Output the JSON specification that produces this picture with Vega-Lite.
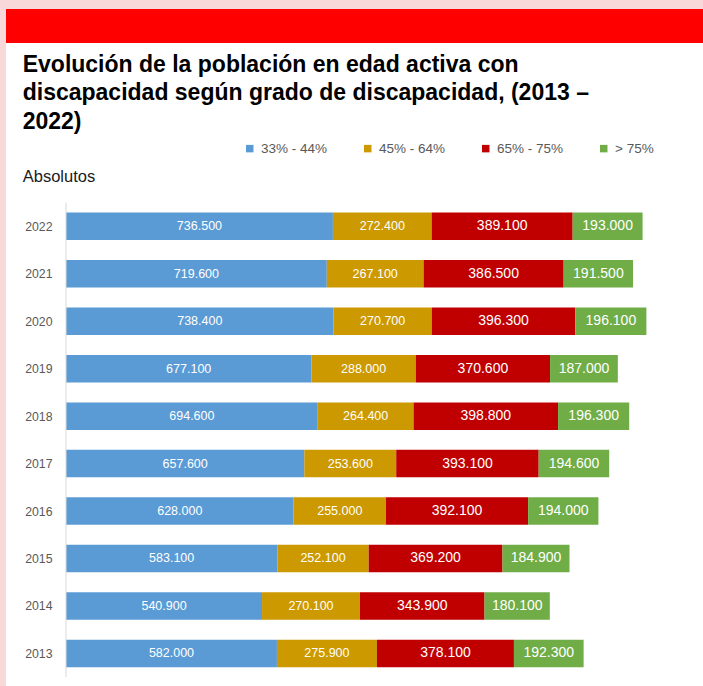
{
  "$schema": "https://vega.github.io/schema/vega-lite/v6.json",
  "background": "#f8d8d9",
  "padding": {"left": 6, "top": 9, "right": 0, "bottom": 0},
  "spacing": 0,
  "bounds": "flush",
  "config": {
    "locale": {"number": {"decimal": ",", "thousands": ".", "grouping": [3], "currency": ["", " €"]}},
    "font": "Liberation Sans"
  },
  "vconcat": [
    {
      "width": 697,
      "height": 34,
      "view": {"fill": "#ff0000", "stroke": null},
      "data": {"values": [{}]},
      "mark": {"type": "point", "opacity": 0},
      "encoding": {}
    },
    {
      "width": 697,
      "height": 643,
      "view": {"fill": "#ffffff", "stroke": null},
      "title": {
        "text": ["Evolución de la población en edad activa con", "discapacidad según grado de discapacidad, (2013 –", "2022)"],
        "subtitle": "Absolutos",
        "anchor": "start",
        "frame": "group",
        "offset": -142,
        "dx": 16.7,
        "font": "Liberation Sans",
        "fontSize": 23,
        "fontWeight": "bold",
        "color": "#000000",
        "lineHeight": 28.5,
        "subtitleFont": "Liberation Sans",
        "subtitleFontSize": 16.5,
        "subtitleFontWeight": "normal",
        "subtitleColor": "#1a1a1a",
        "subtitlePadding": 35
      },
      "data": {
        "values": [
          {"anio": 2022, "grado": "33% - 44%", "valor": 736500},
          {"anio": 2022, "grado": "45% - 64%", "valor": 272400},
          {"anio": 2022, "grado": "65% - 75%", "valor": 389100},
          {"anio": 2022, "grado": "> 75%", "valor": 193000},
          {"anio": 2021, "grado": "33% - 44%", "valor": 719600},
          {"anio": 2021, "grado": "45% - 64%", "valor": 267100},
          {"anio": 2021, "grado": "65% - 75%", "valor": 386500},
          {"anio": 2021, "grado": "> 75%", "valor": 191500},
          {"anio": 2020, "grado": "33% - 44%", "valor": 738400},
          {"anio": 2020, "grado": "45% - 64%", "valor": 270700},
          {"anio": 2020, "grado": "65% - 75%", "valor": 396300},
          {"anio": 2020, "grado": "> 75%", "valor": 196100},
          {"anio": 2019, "grado": "33% - 44%", "valor": 677100},
          {"anio": 2019, "grado": "45% - 64%", "valor": 288000},
          {"anio": 2019, "grado": "65% - 75%", "valor": 370600},
          {"anio": 2019, "grado": "> 75%", "valor": 187000},
          {"anio": 2018, "grado": "33% - 44%", "valor": 694600},
          {"anio": 2018, "grado": "45% - 64%", "valor": 264400},
          {"anio": 2018, "grado": "65% - 75%", "valor": 398800},
          {"anio": 2018, "grado": "> 75%", "valor": 196300},
          {"anio": 2017, "grado": "33% - 44%", "valor": 657600},
          {"anio": 2017, "grado": "45% - 64%", "valor": 253600},
          {"anio": 2017, "grado": "65% - 75%", "valor": 393100},
          {"anio": 2017, "grado": "> 75%", "valor": 194600},
          {"anio": 2016, "grado": "33% - 44%", "valor": 628000},
          {"anio": 2016, "grado": "45% - 64%", "valor": 255000},
          {"anio": 2016, "grado": "65% - 75%", "valor": 392100},
          {"anio": 2016, "grado": "> 75%", "valor": 194000},
          {"anio": 2015, "grado": "33% - 44%", "valor": 583100},
          {"anio": 2015, "grado": "45% - 64%", "valor": 252100},
          {"anio": 2015, "grado": "65% - 75%", "valor": 369200},
          {"anio": 2015, "grado": "> 75%", "valor": 184900},
          {"anio": 2014, "grado": "33% - 44%", "valor": 540900},
          {"anio": 2014, "grado": "45% - 64%", "valor": 270100},
          {"anio": 2014, "grado": "65% - 75%", "valor": 343900},
          {"anio": 2014, "grado": "> 75%", "valor": 180100},
          {"anio": 2013, "grado": "33% - 44%", "valor": 582000},
          {"anio": 2013, "grado": "45% - 64%", "valor": 275900},
          {"anio": 2013, "grado": "65% - 75%", "valor": 378100},
          {"anio": 2013, "grado": "> 75%", "valor": 192300}
        ]
      },
      "transform": [
        {"stack": "valor", "groupby": ["anio"], "sort": [{"field": "grado", "order": "ascending"}], "as": ["x0", "x1"]},
        {"calculate": "(datum.x0 + datum.x1) / 2", "as": "xm"}
      ],
      "layer": [
        {
          "mark": {"type": "bar", "orient": "horizontal", "height": 27.5},
          "encoding": {
            "x": {"field": "x0", "type": "quantitative", "scale": {"domain": [-165600, 1757700], "nice": false, "zero": false, "padding": 0}, "axis": null},
            "x2": {"field": "x1"},
            "y": {
              "field": "anio", "type": "quantitative", "title": null,
              "scale": {"domain": [2012.313, 2025.863], "nice": false, "zero": false, "padding": 0},
              "axis": {
                "title": null, "values": [2013, 2014, 2015, 2016, 2017, 2018, 2019, 2020, 2021, 2022],
                "format": "d", "ticks": false, "domain": false, "grid": false,
                "offset": -46, "labelPadding": 0, "labelFont": "Liberation Sans", "labelFontSize": 12.3,
                "labelColor": "#595959", "labelBaseline": "middle"
              }
            },
            "color": {
              "field": "grado", "type": "nominal",
              "scale": {"domain": ["33% - 44%", "45% - 64%", "65% - 75%", "> 75%"], "range": ["#5b9bd5", "#cc9900", "#c00000", "#70ad47"]},
              "legend": {
                "title": null, "orient": "none", "direction": "horizontal",
                "legendX": 237, "legendY": 132.5,
                "symbolType": "square", "symbolSize": 56, "symbolStrokeWidth": 0,
                "labelFont": "Liberation Sans", "labelFontSize": 13.5, "labelColor": "#595959",
                "labelOffset": 4.5, "columnPadding": 33, "padding": 0
              }
            }
          }
        },
        {
          "data": {"values": [{}]},
          "mark": {"type": "rule", "color": "#d9d9d9", "strokeWidth": 1},
          "encoding": {
            "x": {"datum": 0, "type": "quantitative", "axis": null},
            "y": {
              "datum": 2012.5, "type": "quantitative", "title": null,
              "axis": {
                "title": null, "values": [2013, 2014, 2015, 2016, 2017, 2018, 2019, 2020, 2021, 2022],
                "format": "d", "ticks": false, "domain": false, "grid": false,
                "offset": -46, "labelPadding": 0, "labelFont": "Liberation Sans", "labelFontSize": 12.3,
                "labelColor": "#595959", "labelBaseline": "middle"
              }
            },
            "y2": {"datum": 2022.5}
          }
        },
        {
          "mark": {"type": "text", "align": "center", "baseline": "middle", "font": "Liberation Sans", "color": "#ffffff"},
          "encoding": {
            "x": {"field": "xm", "type": "quantitative", "axis": null},
            "y": {
              "field": "anio", "type": "quantitative", "title": null,
              "axis": {
                "title": null, "values": [2013, 2014, 2015, 2016, 2017, 2018, 2019, 2020, 2021, 2022],
                "format": "d", "ticks": false, "domain": false, "grid": false,
                "offset": -46, "labelPadding": 0, "labelFont": "Liberation Sans", "labelFontSize": 12.3,
                "labelColor": "#595959", "labelBaseline": "middle"
              }
            },
            "text": {"field": "valor", "type": "quantitative", "format": ",.0f"},
            "size": {
              "condition": {"test": "datum.grado === '33% - 44%' || datum.grado === '45% - 64%'", "value": 12.5},
              "value": 14
            }
          }
        }
      ]
    }
  ]
}
